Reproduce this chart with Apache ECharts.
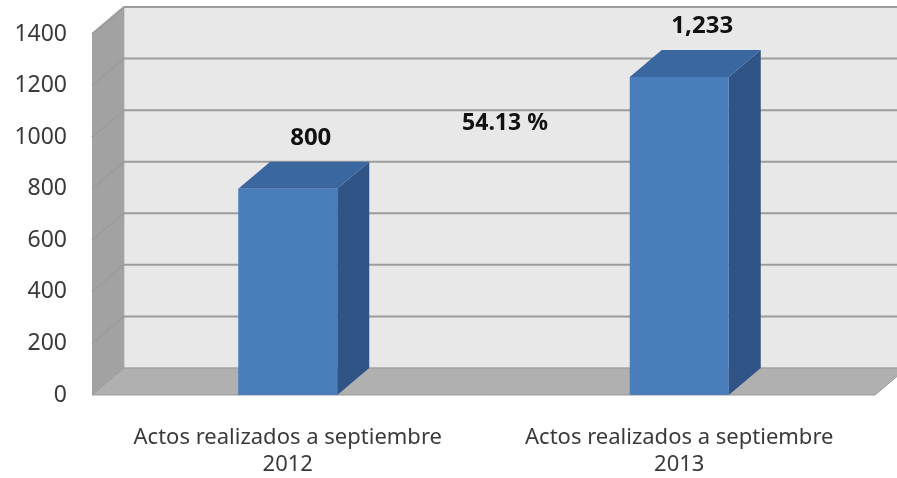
<!DOCTYPE html>
<html>
<head>
<meta charset="utf-8">
<script src="https://cdn.jsdelivr.net/npm/echarts@6/dist/echarts.min.js"></script>
<style>
  html, body { margin: 0; padding: 0; background: #fff; }
  #chart { width: 897px; height: 478px; }
</style>
</head>
<body>
<div id="chart"></div>
<script>
const categories = ['Actos realizados a septiembre\n2012', 'Actos realizados a septiembre\n2013']
const values = [800, 1233]
const yTicks = [0, 200, 400, 600, 800, 1000, 1200, 1400]
const growthLabel = '54.13 %'

// depth of the fake 3d box (px)
const DX = 32
const DY = 27
const BAR_W = 99
const FONT = 'Noto Sans'

const colors = {
  backWall: '#e8e8e8',
  sideWall: '#a2a2a2',
  floor: '#b0b0b0',
  grid: '#9c9c9c',
  front: '#4a7ebb',
  top: '#3b67a1',
  side: '#2f5485',
  text: '#3a3a3a',
  label: '#111',
}

function renderFrame(params, api) {
  const cs = params.coordSys
  const x0 = cs.x
  const x1 = cs.x + cs.width
  const yB = api.coord([0, yTicks[0]])[1]
  const yT = api.coord([0, yTicks[yTicks.length - 1]])[1]
  const children = [
    {
      type: 'polygon',
      shape: { points: [[x0 + DX, yT - DY], [x1 + DX, yT - DY], [x1 + DX, yB - DY], [x0 + DX, yB - DY]] },
      style: { fill: colors.backWall, stroke: '#b8b8b8', lineWidth: 1 },
    },
    {
      type: 'polygon',
      shape: { points: [[x0, yB], [x0 + DX, yB - DY], [x0 + DX, yT - DY], [x0, yT]] },
      style: { fill: colors.sideWall },
    },
    {
      type: 'polygon',
      shape: { points: [[x0, yB], [x1, yB], [x1 + DX, yB - DY], [x0 + DX, yB - DY]] },
      style: { fill: colors.floor, stroke: '#9a9a9a', lineWidth: 1 },
    },
  ]
  yTicks.slice(1).forEach((v) => {
    const y = api.coord([0, v])[1]
    children.push({
      type: 'polyline',
      shape: { points: [[x0, y], [x0 + DX, y - DY], [x1 + DX, y - DY]] },
      style: { stroke: colors.grid, lineWidth: 2, fill: null },
    })
  })
  return { type: 'group', children }
}

function renderBar(params, api) {
  const i = api.value(0)
  const v = api.value(1)
  const base = api.coord([i, 0])
  const top = api.coord([i, v])
  const l = base[0] - BAR_W / 2
  const r = base[0] + BAR_W / 2
  const yb = base[1]
  const yt = top[1]
  return {
    type: 'group',
    children: [
      {
        type: 'polygon',
        shape: { points: [[r, yt], [r + DX, yt - DY], [r + DX, yb - DY], [r, yb]] },
        style: { fill: colors.side },
      },
      {
        type: 'polygon',
        shape: { points: [[l, yt], [l + DX, yt - DY], [r + DX, yt - DY], [r, yt]] },
        style: { fill: colors.top },
      },
      {
        type: 'rect',
        shape: { x: l, y: yt, width: BAR_W, height: yb - yt },
        style: { fill: colors.front },
      },
      {
        type: 'text',
        x: base[0] + 23,
        y: yt - 51,
        style: {
          text: v.toLocaleString('en-US'),
          fontFamily: FONT,
          fontWeight: 'bold',
          fontSize: 24,
          fill: colors.label,
          align: 'center',
          verticalAlign: 'middle',
        },
      },
    ],
  }
}

const chart = echarts.init(document.getElementById('chart'), null, { renderer: 'canvas' })
chart.setOption({
  animation: false,
  grid: { left: 92, right: 22, top: 34, bottom: 78 },
  xAxis: {
    type: 'category',
    data: categories,
    axisLine: { show: false },
    axisTick: { show: false },
    axisLabel: {
      color: colors.text,
      fontFamily: FONT,
      fontSize: 22,
      lineHeight: 27,
      margin: 29,
      interval: 0,
    },
  },
  yAxis: {
    type: 'value',
    min: 0,
    max: 1400,
    interval: 200,
    axisLine: { show: false },
    axisTick: { show: false },
    splitLine: { show: false },
    axisLabel: {
      color: colors.text,
      fontFamily: FONT,
      fontSize: 23,
      margin: 25,
      formatter: (v) => String(v),
    },
  },
  series: [
    {
      type: 'custom',
      z: 1,
      silent: true,
      renderItem: renderFrame,
      data: [[0, 0]],
    },
    {
      type: 'custom',
      z: 2,
      renderItem: renderBar,
      data: values.map((v, i) => [i, v]),
    },
  ],
  graphic: [
    {
      type: 'text',
      x: 505,
      y: 123,
      z: 10,
      style: {
        text: growthLabel,
        fontFamily: FONT,
        fontWeight: 'bold',
        fontSize: 23,
        fill: colors.label,
        align: 'center',
        verticalAlign: 'middle',
      },
    },
  ],
})
</script>
</body>
</html>
